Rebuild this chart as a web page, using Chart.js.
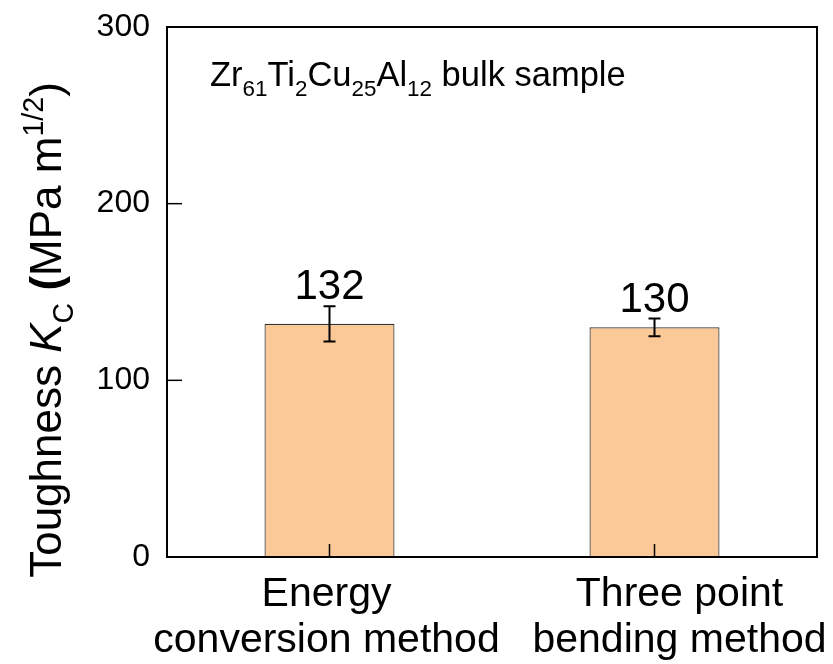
<!DOCTYPE html>
<html>
<head>
<meta charset="utf-8">
<script src="https://cdn.jsdelivr.net/npm/chart.js@4/dist/chart.umd.min.js"></script>
<style>
  html, body { margin: 0; padding: 0; background: #fff; }
  #wrap { width: 833px; height: 664px; }
</style>
</head>
<body>
<div id="wrap"><canvas id="c" width="833" height="664"></canvas></div>
<script>
// ---- data ----
const categories = [['Energy', 'conversion method'], ['Three point', 'bending method']];
const toughness = [132, 130];
const errors = [10, 5];
const yTickValues = [0, 100, 200, 300];
const valueLabels = ['132', '130'];

const FONT = '"Liberation Sans", Arial, Helvetica, sans-serif';
// horizontal nudge of each category label (style, px)
const LABEL_NUDGE = [-3, 25];

// rich text: segments {t, s: 'n'|'sub'|'sup', i: italic, b: bold}
function richWidth(ctx, segs, size) {
  let w = 0;
  for (const sg of segs) {
    const fs = (sg.s === 'sub' || sg.s === 'sup') ? size * 0.65 : size;
    ctx.font = (sg.i ? 'italic ' : '') + (sg.b ? 'bold ' : '') + fs + 'px ' + FONT;
    w += ctx.measureText(sg.t).width;
  }
  return w;
}
function drawRich(ctx, segs, x, y, size) {
  ctx.textBaseline = 'alphabetic';
  ctx.textAlign = 'left';
  let cx = x;
  for (const sg of segs) {
    let fs = size, dy = 0;
    if (sg.s === 'sub') { fs = size * 0.65; dy = size * 0.28; }
    if (sg.s === 'sup') { fs = size * 0.65; dy = -size * 0.42; }
    ctx.font = (sg.i ? 'italic ' : '') + (sg.b ? 'bold ' : '') + fs + 'px ' + FONT;
    ctx.fillText(sg.t, cx, y + dy);
    cx += ctx.measureText(sg.t).width;
  }
}

const yTitle = [
  {t: 'Toughness '}, {t: 'K', i: true}, {t: 'C', s: 'sub'}, {t: ' '},
  {t: '(', b: true}, {t: 'MPa m'}, {t: '1/2', s: 'sup'}, {t: ')'}
];
const annotation = [
  {t: 'Zr'}, {t: '61', s: 'sub'}, {t: 'Ti'}, {t: '2', s: 'sub'},
  {t: 'Cu'}, {t: '25', s: 'sub'}, {t: 'Al'}, {t: '12', s: 'sub'}, {t: ' bulk sample'}
];

const overlay = {
  id: 'overlay',
  afterDatasetsDraw(chart) {
    const ctx = chart.ctx;
    const a = chart.chartArea;
    const xs = chart.scales.x, ys = chart.scales.y;
    ctx.save();
    ctx.strokeStyle = '#000';
    ctx.fillStyle = '#000';
    // box
    ctx.lineWidth = 2;
    ctx.strokeRect(a.left, a.top, a.right - a.left, a.bottom - a.top);
    // inward ticks
    ctx.lineWidth = 1.5;
    for (const v of yTickValues) {
      const py = ys.getPixelForValue(v);
      ctx.beginPath(); ctx.moveTo(a.left, py); ctx.lineTo(a.left + 15, py); ctx.stroke();
    }
    for (let i = 0; i < categories.length; i++) {
      const px = xs.getPixelForValue(i);
      ctx.beginPath(); ctx.moveTo(px, a.bottom); ctx.lineTo(px, a.bottom - 13); ctx.stroke();
    }
    // category labels
    ctx.font = '41px ' + FONT;
    ctx.textAlign = 'center';
    ctx.textBaseline = 'alphabetic';
    for (let i = 0; i < categories.length; i++) {
      const px = xs.getPixelForValue(i) + LABEL_NUDGE[i];
      categories[i].forEach((line, k) => ctx.fillText(line, px, a.bottom + 49 + k * 46));
    }
    // error bars + value labels
    for (let i = 0; i < toughness.length; i++) {
      const px = xs.getPixelForValue(i);
      const top = ys.getPixelForValue(toughness[i] + errors[i]);
      const bot = ys.getPixelForValue(toughness[i] - errors[i]);
      ctx.lineWidth = 2;
      ctx.beginPath();
      ctx.moveTo(px, top); ctx.lineTo(px, bot);
      ctx.moveTo(px - 6, top); ctx.lineTo(px + 6, top);
      ctx.moveTo(px - 6, bot); ctx.lineTo(px + 6, bot);
      ctx.stroke();
      ctx.font = '42px ' + FONT;
      ctx.textAlign = 'center';
      ctx.textBaseline = 'alphabetic';
      ctx.fillText(valueLabels[i], px, top - 7);
    }
    // y title
    ctx.save();
    ctx.translate(61, 330);
    ctx.rotate(-Math.PI / 2);
    const w = richWidth(ctx, yTitle, 44);
    drawRich(ctx, yTitle, -w / 2, 0, 44);
    ctx.restore();
    // annotation
    drawRich(ctx, annotation, 210, 86, 34.5);
    ctx.restore();
  }
};

new Chart(document.getElementById('c'), {
  type: 'bar',
  data: {
    labels: categories,
    datasets: [{
      data: toughness,
      backgroundColor: '#FBC997',
      borderColor: '#333333',
      borderWidth: 1.2,
      barPercentage: 0.4,
      categoryPercentage: 1.0
    }]
  },
  options: {
    responsive: false,
    animation: false,
    layout: { padding: { top: 27, right: 16, left: 0, bottom: 0 } },
    plugins: { legend: { display: false }, tooltip: { enabled: false } },
    scales: {
      x: {
        grid: { display: false, drawTicks: false },
        border: { display: false },
        ticks: { display: false },
        afterFit(s) { s.height = 107; s.paddingLeft = 0; s.paddingRight = 0; }
      },
      y: {
        min: 0, max: 300,
        grid: { display: false, drawTicks: false },
        border: { display: false },
        ticks: { stepSize: 100, color: '#000', font: { family: FONT, size: 32 }, padding: 17 },
        afterFit(s) { s.width = 167; s.paddingTop = 0; s.paddingBottom = 0; }
      }
    }
  },
  plugins: [overlay]
});
</script>
</body>
</html>
